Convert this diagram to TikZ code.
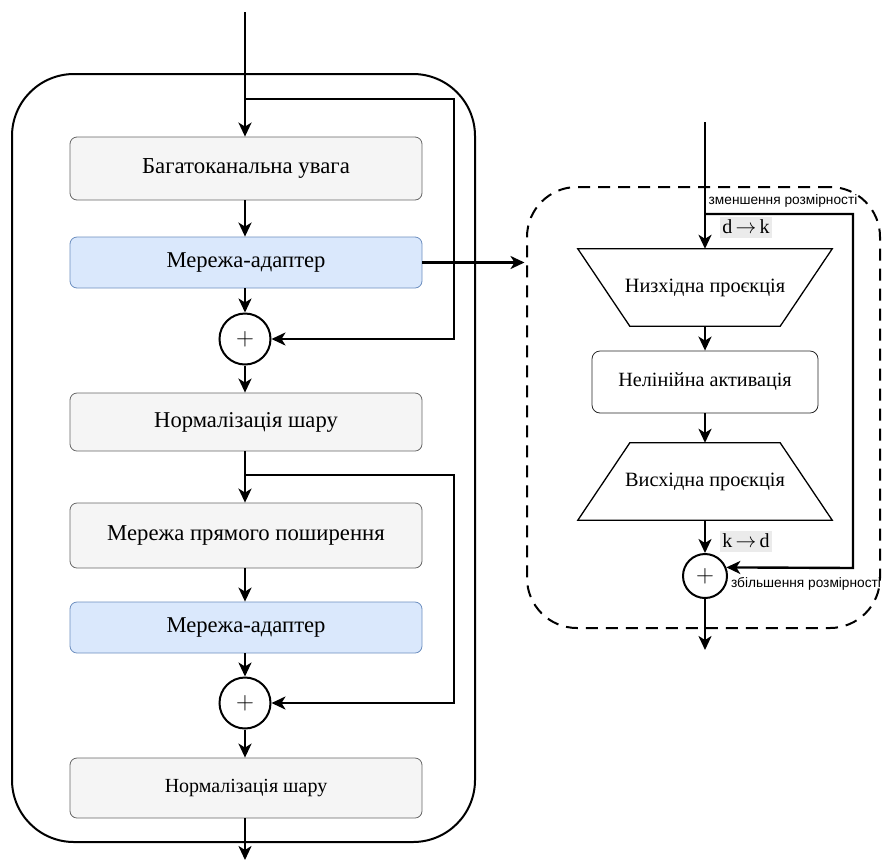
\documentclass[tikz,border=0pt]{standalone}
\usepackage{fontspec}
\setmainfont{Liberation Serif}
\newfontfamily\labelfont{Liberation Sans}
\usetikzlibrary{arrows.meta,calc}
\definecolor{boxfill}{HTML}{F5F5F5}
\definecolor{boxline}{HTML}{666666}
\definecolor{adfill}{HTML}{DAE8FC}
\definecolor{adline}{HTML}{6C8EBF}
\definecolor{tagfill}{HTML}{EBEBEB}
\begin{document}
\begin{tikzpicture}[x=1pt,y=-1pt,
  wire/.style={line width=2.4pt},
  flow/.style={wire,-{Stealth[length=14pt,width=13pt,inset=4pt]}},
  block/.style={draw=boxline,fill=boxfill,rounded corners=7pt,line width=0.8pt,
    minimum width=352pt,minimum height=#1,inner sep=0pt},
  adapter/.style={block=#1,draw=adline,fill=adfill},
  adder/.style={circle,draw,line width=2pt,minimum size=#1,inner sep=0pt,
    font=\fontsize{27}{27}\selectfont},
  tag/.style={fill=tagfill,inner sep=0pt,minimum width=52pt,minimum height=21pt,font=\fontsize{20}{21}\selectfont},
  note/.style={font=\labelfont\fontsize{13.7}{15}\selectfont,inner sep=0pt},
  plain/.style={inner sep=0pt,minimum width=#1},
]
\useasboundingbox (0,0) rectangle (885,863);

% ---------- transformer layer with adapters ----------
\node (frame) [draw,line width=2pt,rounded corners=62pt,minimum width=463pt,minimum height=768pt] at (243.5,458) {};

\coordinate (in) at (245,12);
\node (mha)  [block=63pt]   at (246,168.5) {\fontsize{22.8}{25}\selectfont Багатоканальна увага};
\node (ad1)  [adapter=51pt] at (246,262.5) {\fontsize{22.6}{25}\selectfont Мережа-адаптер};
\node (add1) [adder=51pt]   at (245,339) {$+$};
\node (ln1)  [block=58pt]   at (246,422) {\fontsize{22.6}{25}\selectfont Нормалізація шару};
\node (ffn)  [block=65pt]   at (246,535.5) {\fontsize{22.7}{25}\selectfont Мережа прямого поширення};
\node (ad2)  [adapter=51pt] at (246,627.5) {\fontsize{22.6}{25}\selectfont Мережа-адаптер};
\node (add2) [adder=51pt]   at (245,703) {$+$};
\node (ln2)  [block=60pt]   at (246,788) {\fontsize{20}{24}\selectfont Нормалізація шару};
\coordinate (out) at (245,860);

\coordinate (s1) at (245,99);
\coordinate (s1r) at (454,99);
\coordinate (s1d) at (454,339);
\coordinate (s2) at (245,475);
\coordinate (s2r) at (454,475);
\coordinate (s2d) at (454,703);

\draw[flow] (in) -- (in |- mha.north);
\draw[flow] (mha.south -| add1) -- (ad1.north -| add1);
\draw[flow] (ad1.south -| add1) -- (add1.north);
\draw[flow] (add1.south) -- (ln1.north -| add1);
\draw[flow] (ln1.south -| add2) -- (ffn.north -| add2);
\draw[flow] (ffn.south -| add2) -- (ad2.north -| add2);
\draw[flow] (ad2.south -| add2) -- (add2.north);
\draw[flow] (add2.south) -- (ln2.north -| add2);
\draw[flow] (ln2.south -| add2) -- (out);

\draw[flow] (s1) -- (s1r) -- (s1d) -- (add1.east);
\draw[flow] (s2) -- (s2r) -- (s2d) -- (add2.east);

% ---------- adapter module ----------
\node (panel) [draw,line width=2pt,dash pattern=on 12pt off 8pt,rounded corners=50pt,
  minimum width=353pt,minimum height=441pt] at (703.5,407.5) {};

\draw[flow,shorten >=1.5pt] (ad1.east) -- (ad1.east -| panel.west);

\coordinate (rin) at (705,122);
\node (down) [plain=254pt,minimum height=77pt] at (705,287.5) {\fontsize{20.3}{22}\selectfont Низхідна проєкція};
\node (act)  [draw=black!85,rounded corners=8pt,line width=0.8pt,minimum width=226pt,minimum height=62pt,inner sep=0pt]
  at (705,382) {\fontsize{20.2}{22}\selectfont Нелінійна активація};
\node (up)   [plain=254pt,minimum height=77pt] at (705,481.5) {\fontsize{20.3}{22}\selectfont Висхідна проєкція};
\node (add3) [adder=44pt] at (705,576) {$+$};
\coordinate (rout) at (705,650);

\draw[line width=1.3pt] (down.north west) -- (down.north east)
  -- ($(down.south east)+(-52,0)$) -- ($(down.south west)+(52,0)$) -- cycle;
\draw[line width=1.3pt] ($(up.north west)+(52,0)$) -- ($(up.north east)+(-52,0)$)
  -- (up.south east) -- (up.south west) -- cycle;

\coordinate (r1) at (705,214);
\coordinate (r1r) at (853,214);
\coordinate (r1d) at (853,568);

\draw[flow] (rin) -- (down.north);
\draw[flow] (down.south) -- (act.north);
\draw[flow] (act.south) -- (up.north);
\draw[flow] (up.south) -- (add3.north);
\draw[flow] (add3.south) -- (rout);
\draw[flow] (r1) -- (r1r) -- (r1d) -- (add3.22);

\node (dk) [tag] at (746,227) {d\,$\rightarrow$\,k};
\node (kd) [tag] at (746,541) {k\,$\rightarrow$\,d};
\node (reduce) [note] at (783,201) {зменшення розмірності};
\node (expand) [note] at (806,584) {збільшення розмірності};
\end{tikzpicture}
\end{document}
